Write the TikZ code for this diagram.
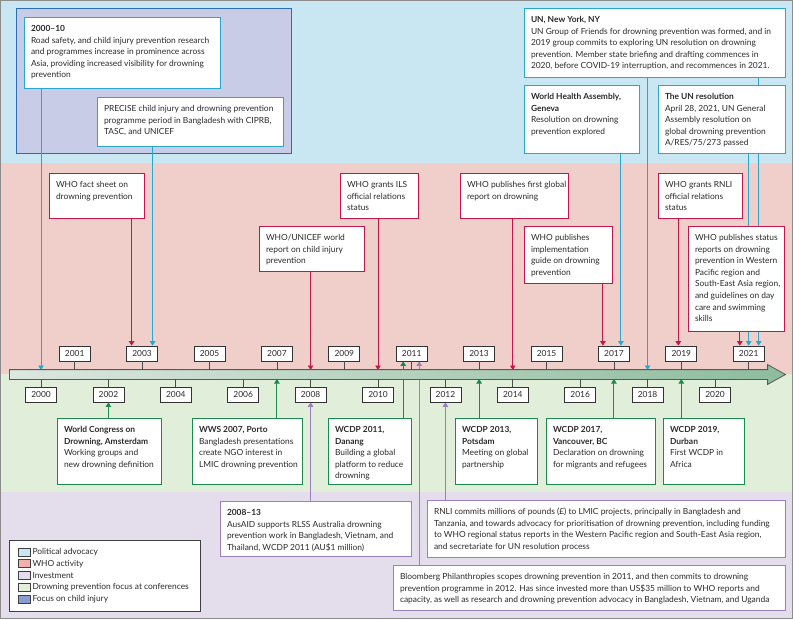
\documentclass[tikz,border=0pt]{standalone}
\usepackage{fontspec}
\setmainfont{Lato}
\usetikzlibrary{arrows.meta, shapes.arrows, positioning}

\definecolor{bandblue}{HTML}{C9E7F2}
\definecolor{bandpink}{HTML}{F0CFCA}
\definecolor{bandgreen}{HTML}{E1EED9}
\definecolor{bandpurple}{HTML}{E4DEEC}
\definecolor{focusfill}{HTML}{C9CCE7}
\definecolor{focusline}{HTML}{2E6DB5}
\definecolor{lncyan}{HTML}{2BA6CF}
\definecolor{lncrim}{HTML}{C3174B}
\definecolor{lngreen}{HTML}{1B8A4D}
\definecolor{lnpurple}{HTML}{9B7EC4}
\definecolor{legfocus}{HTML}{8A9DD3}
\definecolor{axleft}{HTML}{DCE7DF}
\definecolor{axright}{HTML}{8DBC9D}
\definecolor{txt}{HTML}{2B2B2B}

\pgfdeclarelayer{bands}
\pgfdeclarelayer{links}
\pgfsetlayers{bands,links,main}

\newcommand{\evfont}{\fontsize{8.4}{11.6}\selectfont}
\newcommand{\boxtext}[3]{\parbox[t][#2pt][t]{\dimexpr#1pt-14pt\relax}{\rule{0pt}{14.5pt}%
    \makebox[\dimexpr#1pt-14pt\relax][l]{\begin{tabular}[t]{@{}l@{}}#3\end{tabular}}}}

\begin{document}
\begin{tikzpicture}[x=1pt, y=-1pt, font=\evfont, text=txt,
    evbox/.style={draw=#1, fill=white, line width=1pt, anchor=north west,
        inner xsep=7pt, inner ysep=0pt, outer sep=0pt},
    yearbox/.style={draw=black!80, fill=white, line width=0.7pt,
        minimum width=31pt, minimum height=15pt, inner sep=0pt},
    tickln/.style={draw=black!70, line width=0.7pt},
    link/.style={draw=#1, line width=0.9pt, -{Triangle[width=5.5pt,length=4.5pt]}},
    swatch/.style={draw=black!75, line width=0.6pt, minimum width=12pt,
        minimum height=8pt, inner sep=0pt},
    axisarrow/.style={single arrow, draw=black!65, line width=0.8pt,
        left color=axleft, right color=axright,
        inner xsep=0pt, inner ysep=4.5pt,
        single arrow head extend=5pt, single arrow tip angle=58,
        minimum height=776pt, anchor=west}
]
    \useasboundingbox (0,0) rectangle (793,619);

    % Background bands
    \begin{pgfonlayer}{bands}
        \fill[bandblue]   (0,0)   rectangle (793,163);
        \fill[bandpink]   (0,163) rectangle (793,374);
        \fill[bandgreen]  (0,374) rectangle (793,492);
        \fill[bandpurple] (0,492) rectangle (793,619);
        \draw[focusline, fill=focusfill, line width=1pt] (16,8) rectangle (291,153);
        \draw[black!45, line width=1pt] (0.5,0.5) rectangle (792.5,618.5);
    \end{pgfonlayer}

    % Timeline
    \coordinate (axtop) at (0,370);
    \coordinate (axbot) at (0,379);
    \node[axisarrow] (axis) at (9,374.5) {};
    \foreach \yr [count=\k from 0] in {2000,...,2021}{
        \pgfmathsetmacro{\xx}{41+\k*33.7}
        \ifodd\k
            \node[yearbox] (y\yr) at (\xx,353.5) {\yr};
            \draw[tickln] (y\yr.south) -- (y\yr.south |- axtop);
        \else
            \node[yearbox] (y\yr) at (\xx,394.5) {\yr};
            \draw[tickln] (y\yr.north) -- (y\yr.north |- axbot);
        \fi
    }

    % Political advocacy
    \node[evbox=lncyan] (b2000) at (24,17) {\boxtext{196}{71}{\textbf{2000–10}\\Road safety, and child injury prevention research\\and programmes increase in prominence across\\Asia, providing increased visibility for drowning\\prevention}};
    \node[evbox=lncyan] (precise) at (97,97) {\boxtext{186}{49}{PRECISE child injury and drowning prevention\\programme period in Bangladesh with CIPRB,\\TASC, and UNICEF}};
    \node[evbox=lncyan] (unny) at (524,8) {\boxtext{261}{69}{\textbf{UN, New York, NY}\\UN Group of Friends for drowning prevention was formed, and in\\2019 group commits to exploring UN resolution on drowning\\prevention. Member state briefing and drafting commences in\\2020, before COVID-19 interruption, and recommences in 2021.}};
    \node[evbox=lncyan] (wha) at (524,85) {\boxtext{115}{68}{\textbf{World Health Assembly,}\\\textbf{Geneva}\\Resolution on drowning\\prevention explored}};
    \node[evbox=lncyan] (unres) at (658,85) {\boxtext{127}{68}{\textbf{The UN resolution}\\April 28, 2021, UN General\\Assembly resolution on\\global drowning prevention\\A/RES/75/273 passed}};

    % WHO activity
    \node[evbox=lncrim] (fact) at (49,173) {\boxtext{95}{45}{WHO fact sheet on\\drowning prevention}};
    \node[evbox=lncrim] (unicef) at (259,226) {\boxtext{105}{45}{WHO/UNICEF world\\report on child injury\\prevention}};
    \node[evbox=lncrim] (ils) at (340,173) {\boxtext{78}{45}{WHO grants ILS\\official relations\\status}};
    \node[evbox=lncrim] (glob) at (460,173) {\boxtext{108}{45}{WHO publishes first global\\report on drowning}};
    \node[evbox=lncrim] (impl) at (524,226) {\boxtext{88}{57}{WHO publishes\\implementation\\guide on drowning\\prevention}};
    \node[evbox=lncrim] (rnli) at (658,173) {\boxtext{84}{45}{WHO grants RNLI\\official relations\\status}};
    \node[evbox=lncrim] (status) at (688,226) {\boxtext{96}{105}{WHO publishes status\\reports on drowning\\prevention in Western\\Pacific region and\\South-East Asia region,\\and guidelines on day\\care and swimming\\skills}};

    % Conferences
    \node[evbox=lngreen] (wcd) at (57,418) {\boxtext{104}{66}{\textbf{World Congress on}\\\textbf{Drowning, Amsterdam}\\Working groups and\\new drowning definition}};
    \node[evbox=lngreen] (wws) at (192,418) {\boxtext{110}{66}{\textbf{WWS 2007, Porto}\\Bangladesh presentations\\create NGO interest in\\LMIC drowning prevention}};
    \node[evbox=lngreen] (dan) at (328,418) {\boxtext{83}{66}{\textbf{WCDP 2011,}\\\textbf{Danang}\\Building a global\\platform to reduce\\drowning}};
    \node[evbox=lngreen] (pot) at (455,418) {\boxtext{82}{66}{\textbf{WCDP 2013,}\\\textbf{Potsdam}\\Meeting on global\\partnership}};
    \node[evbox=lngreen] (van) at (546,418) {\boxtext{109}{66}{\textbf{WCDP 2017,}\\\textbf{Vancouver, BC}\\Declaration on drowning\\for migrants and refugees}};
    \node[evbox=lngreen] (dur) at (663,418) {\boxtext{81}{66}{\textbf{WCDP 2019,}\\\textbf{Durban}\\First WCDP in\\Africa}};

    % Investment
    \node[evbox=lnpurple] (aus) at (220,501) {\boxtext{191}{55}{\textbf{2008–13}\\AusAID supports RLSS Australia drowning\\prevention work in Bangladesh, Vietnam, and\\Thailand, WCDP 2011 (AU\$1 million)}};
    \node[evbox=lnpurple] (rnlic) at (427,500) {\boxtext{358}{57}{RNLI commits millions of pounds (£) to LMIC projects, principally in Bangladesh and\\Tanzania, and towards advocacy for prioritisation of drowning prevention, including funding\\to WHO regional status reports in the Western Pacific region and South-East Asia region,\\and secretariate for UN resolution process}};
    \node[evbox=lnpurple] (bloom) at (393,565) {\boxtext{392}{45}{Bloomberg Philanthropies scopes drowning prevention in 2011, and then commits to drowning\\prevention programme in 2012. Has since invested more than US\$35 million to WHO reports and\\capacity, as well as research and drowning prevention advocacy in Bangladesh, Vietnam, and Uganda}};

    % Arrow ends beside the year boxes
    \coordinate (f03) at ([xshift=-10.5pt]y2003.north);
    \coordinate (p03) at ([xshift=10.5pt]y2003.north);
    \coordinate (i17) at ([xshift=-11pt]y2017.north);
    \coordinate (w17) at ([xshift=7pt]y2017.north);
    \coordinate (r19) at ([xshift=-3pt]y2019.north);
    \coordinate (s21) at ([xshift=-9pt]y2021.north);
    \coordinate (u21) at (y2021.north);
    \coordinate (n21) at ([xshift=10pt]y2021.north);
    \coordinate (d11) at ([xshift=-8.5pt]y2011.south);
    \coordinate (b11) at ([xshift=7.5pt]y2011.south);

    \begin{pgfonlayer}{links}
        \draw[link=lncyan] (b2000.south -| y2000) -- (y2000 |- axtop);
        \draw[link=lncyan] (precise.south -| p03) -- (p03);
        \draw[link=lncyan] (unny.south -| y2018) -- (y2018 |- axtop);
        \draw[link=lncyan] (unny.south -| n21) -- (n21);
        \draw[link=lncyan] (wha.south -| w17) -- (w17);
        \draw[link=lncyan] (unres.south -| u21) -- (u21);

        \draw[link=lncrim] (fact.south -| f03) -- (f03);
        \draw[link=lncrim] (unicef.south -| y2008) -- (y2008 |- axtop);
        \draw[link=lncrim] (ils.south -| y2010) -- (y2010 |- axtop);
        \draw[link=lncrim] (glob.south -| y2014) -- (y2014 |- axtop);
        \draw[link=lncrim] (impl.south -| i17) -- (i17);
        \draw[link=lncrim] (rnli.south -| r19) -- (r19);
        \draw[link=lncrim] (status.south -| s21) -- (s21);

        \draw[link=lngreen] (wcd.north -| y2002) -- (y2002.south);
        \draw[link=lngreen] (wws.north -| y2007) -- (y2007 |- axbot);
        \draw[link=lngreen] (dan.north -| d11) -- (d11);
        \draw[link=lngreen] (pot.north -| y2013) -- (y2013 |- axbot);
        \draw[link=lngreen] (van.north -| y2017) -- (y2017 |- axbot);
        \draw[link=lngreen] (dur.north -| y2019) -- (y2019 |- axbot);

        \draw[link=lnpurple] (aus.north -| y2008) -- (y2008.south);
        \draw[link=lnpurple] (rnlic.north -| y2012) -- (y2012.south);
        \draw[link=lnpurple] (bloom.north -| b11) -- (b11);
    \end{pgfonlayer}

    % Legend
    \node[draw=black!75, line width=1pt, fill=white, anchor=north west,
        minimum width=191pt, minimum height=71pt, inner sep=0pt] (legend) at (9,540) {};
    \foreach \c/\t [count=\i from 0] in {bandblue/Political advocacy, bandpink!85!red/WHO activity,
        bandpurple/Investment, bandgreen/Drowning prevention focus at conferences,
        legfocus/Focus on child injury}{
        \node[swatch, fill=\c] (sw\i) at (24,552+\i*11.7) {};
        \node[anchor=west, inner xsep=2pt] (lt\i) at (sw\i.east) {\t};
    }
\end{tikzpicture}
\end{document}
